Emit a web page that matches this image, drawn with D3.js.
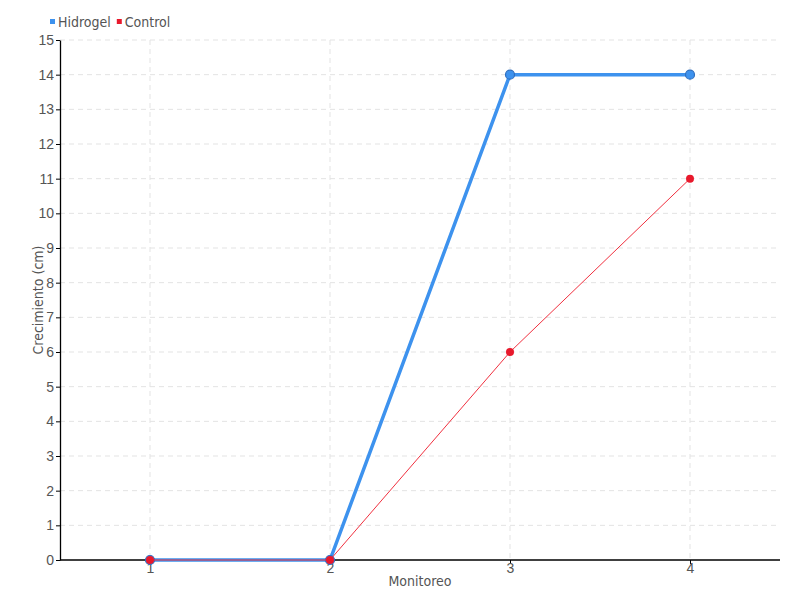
<!DOCTYPE html>
<html>
<head>
<meta charset="utf-8">
<script src="https://cdn.jsdelivr.net/npm/d3@7"></script>
<style>
  body { margin: 0; background: #fff; }
  svg { font-family: "Liberation Sans Narrow", "DejaVu Sans Condensed", sans-serif; }
</style>
</head>
<body>
<div id="chart"></div>
<script>
// data
var categories = ["1", "2", "3", "4"];
var hidrogel = [0, 0, 14, 14];
var control = [0, 0, 6, 11];
var yTicks = d3.range(0, 16);

var width = 800, height = 600;
var margin = { top: 40, right: 20, bottom: 40, left: 60 };
var w = width - margin.left - margin.right,
    h = height - margin.top - margin.bottom;

var svg = d3.select("#chart").append("svg")
    .attr("width", width)
    .attr("height", height);

var g = svg.append("g")
    .attr("transform", "translate(" + margin.left + "," + margin.top + ")");

var x = d3.scalePoint().domain(categories).range([0, w]).padding(0.5);
var y = d3.scaleLinear().domain([0, 15]).range([h, 0]);

// grid
g.append("g").selectAll("line.hg")
    .data(yTicks.slice(1))
    .enter().append("line")
    .attr("x1", 0).attr("x2", w)
    .attr("y1", function(d) { return y(d); })
    .attr("y2", function(d) { return y(d); })
    .attr("stroke", "#e3e3e3")
    .attr("stroke-dasharray", "5,4");

g.append("g").selectAll("line.vg")
    .data(categories)
    .enter().append("line")
    .attr("x1", function(d) { return x(d); })
    .attr("x2", function(d) { return x(d); })
    .attr("y1", 0).attr("y2", h)
    .attr("stroke", "#e3e3e3")
    .attr("stroke-dasharray", "5,4");

// axes
var yAxis = g.append("g")
    .call(d3.axisLeft(y).tickValues(yTicks).tickSize(4).tickSizeOuter(0));
var xAxis = g.append("g")
    .attr("transform", "translate(0," + h + ")")
    .call(d3.axisBottom(x).tickSize(4).tickSizeOuter(0));

[yAxis, xAxis].forEach(function(a) {
  a.select(".domain").attr("stroke", "#000").attr("stroke-width", 1.3);
  a.selectAll(".tick line").attr("stroke", "#000");
  a.selectAll("text").attr("fill", "#555").style("font-size", "14px");
});
yAxis.selectAll("text").attr("x", -6);
xAxis.selectAll("text").attr("y", 3);
xAxis.select(".domain").attr("d", "M0,0H" + w);

// axis titles
svg.append("text")
    .attr("transform", "translate(43," + (margin.top + h / 2) + ") rotate(-90)")
    .attr("text-anchor", "middle")
    .attr("fill", "#555")
    .style("font-size", "14px")
    .text("Crecimiento (cm)");

svg.append("text")
    .attr("x", margin.left + w / 2)
    .attr("y", 586)
    .attr("text-anchor", "middle")
    .attr("fill", "#555")
    .style("font-size", "14px")
    .text("Monitoreo");

// lines
var line = d3.line()
    .x(function(d, i) { return x(categories[i]); })
    .y(function(d) { return y(d); });

g.append("path").datum(hidrogel)
    .attr("d", line)
    .attr("fill", "none")
    .attr("stroke", "#3d92ee")
    .attr("stroke-width", 3.5);

g.selectAll("circle.hid").data(hidrogel).enter().append("circle")
    .attr("cx", function(d, i) { return x(categories[i]); })
    .attr("cy", function(d) { return y(d); })
    .attr("r", 4.5)
    .attr("fill", "#3d92ee")
    .attr("stroke", "#2f6fc0")
    .attr("stroke-width", 1.2);

g.append("path").datum(control)
    .attr("d", line)
    .attr("fill", "none")
    .attr("stroke", "#f0303f")
    .attr("stroke-width", 1);

g.selectAll("circle.ctl").data(control).enter().append("circle")
    .attr("cx", function(d, i) { return x(categories[i]); })
    .attr("cy", function(d) { return y(d); })
    .attr("r", 4)
    .attr("fill", "#e8192c");

// legend
var legend = [{ name: "Hidrogel", color: "#3d92ee" }, { name: "Control", color: "#e8192c" }];
var lx = 50;
legend.forEach(function(d) {
  svg.append("rect")
      .attr("x", lx).attr("y", 19)
      .attr("width", 5).attr("height", 5)
      .attr("fill", d.color);
  var t = svg.append("text")
      .attr("x", lx + 8).attr("y", 27)
      .attr("fill", "#555")
      .style("font-size", "14px")
      .text(d.name);
  lx += 8 + t.node().getComputedTextLength() + 6;
});
</script>
</body>
</html>
